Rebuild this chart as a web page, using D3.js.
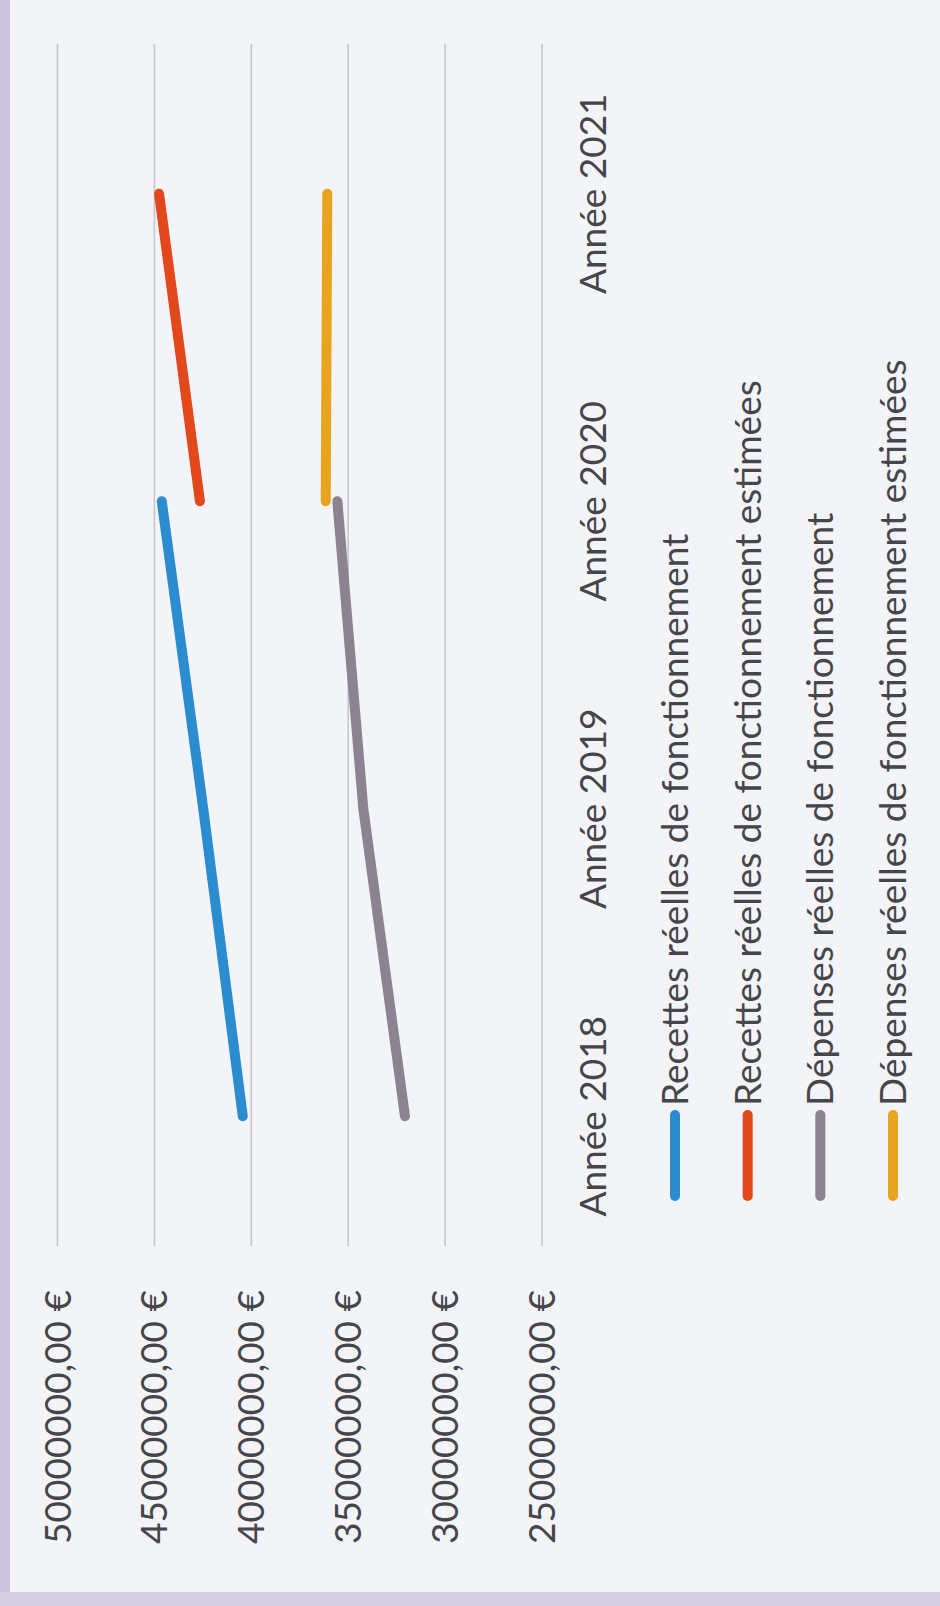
<!DOCTYPE html>
<html>
<head>
<meta charset="utf-8">
<script src="https://cdn.jsdelivr.net/npm/d3@7"></script>
<style>
  html, body { margin: 0; padding: 0; background: #f3f4f8; }
  svg { display: block; }
  text { font-family: Lato, "Open Sans", sans-serif; fill: #45454a; }
</style>
</head>
<body>
<svg id="chart" width="940" height="1606"></svg>
<script>
// Years on the category axis
const years = ["Année 2018", "Année 2019", "Année 2020", "Année 2021"];

// Value axis ticks (euros) and their labels
const tickValues = [50000000, 45000000, 40000000, 35000000, 30000000, 25000000];
const tickLabels = ["50000000,00 €", "45000000,00 €", "40000000,00 €", "35000000,00 €", "30000000,00 €", "25000000,00 €"];

// Series (euros), null where a year has no value
const recettes    = [40440000, 42480000, 44620000, null];
const recettesEst = [null, null, 42650000, 44760000];
const depenses    = [32070000, 34220000, 35560000, null];
const depensesEst = [null, null, 36160000, 36080000];

const seriesNames = [
  "Recettes réelles de fonctionnement",
  "Recettes réelles de fonctionnement estimées",
  "Dépenses réelles de fonctionnement",
  "Dépenses réelles de fonctionnement estimées"
];
const seriesColors = ["#2b8dd0", "#e2481b", "#8b8390", "#e9a41f"];
const seriesValues = [recettes, recettesEst, depenses, depensesEst];

const svg = d3.select("#chart");

// Page frame: lavender edge on the left and along the bottom
svg.append("rect").attr("x", 0).attr("y", 0).attr("width", 10).attr("height", 1606).attr("fill", "#cbc6de");
svg.append("rect").attr("x", 0).attr("y", 1592).attr("width", 940).attr("height", 14).attr("fill", "#d4d0e2");

// The chart is laid out turned a quarter turn: values run left→right (high→low),
// years run bottom→top.
const x = d3.scaleLinear().domain([25000000, 50000000]).range([542, 57.5]);
const y = d3.scalePoint().domain(years).range([1270, 40]).padding(0.5);

const gridTop = 44, gridBottom = 1246;

// Gridlines
svg.append("g").selectAll("line")
  .data(tickValues)
  .join("line")
  .attr("x1", d => x(d)).attr("x2", d => x(d))
  .attr("y1", gridTop).attr("y2", gridBottom)
  .attr("stroke", "#c6c6cc")
  .attr("stroke-width", 1.6);

// Value axis labels (rotated)
const fontSize = 37;
svg.append("g").selectAll("text")
  .data(tickValues)
  .join("text")
  .attr("transform", d => `translate(${x(d) + 13},1290) rotate(-90)`)
  .attr("text-anchor", "end")
  .attr("font-size", fontSize)
  .text((d, i) => tickLabels[i]);

// Category labels (rotated)
svg.append("g").selectAll("text")
  .data(years)
  .join("text")
  .attr("transform", d => `translate(606,${y(d)}) rotate(-90)`)
  .attr("text-anchor", "middle")
  .attr("font-size", fontSize)
  .text(d => d);

// Lines
const line = d3.line()
  .defined(d => d.v !== null)
  .x(d => x(d.v))
  .y(d => y(d.year));

svg.append("g").selectAll("path")
  .data(seriesValues.map((vals, i) => ({
    color: seriesColors[i],
    points: vals.map((v, j) => ({ year: years[j], v }))
  })))
  .join("path")
  .attr("d", d => line(d.points))
  .attr("fill", "none")
  .attr("stroke", d => d.color)
  .attr("stroke-width", 10)
  .attr("stroke-linecap", "round")
  .attr("stroke-linejoin", "round");

// Legend: short coloured bar, then the rotated series name
const legendX = d3.scalePoint().domain(seriesNames).range([675, 893]);
const legend = svg.append("g").selectAll("g")
  .data(seriesNames)
  .join("g")
  .attr("transform", d => `translate(${legendX(d)},0)`);

legend.append("line")
  .attr("x1", 0).attr("x2", 0)
  .attr("y1", 1115).attr("y2", 1196)
  .attr("stroke", (d, i) => seriesColors[i])
  .attr("stroke-width", 10)
  .attr("stroke-linecap", "round");

legend.append("text")
  .attr("transform", "translate(13,1106) rotate(-90)")
  .attr("text-anchor", "start")
  .attr("font-size", fontSize)
  .text(d => d);
</script>
</body>
</html>
